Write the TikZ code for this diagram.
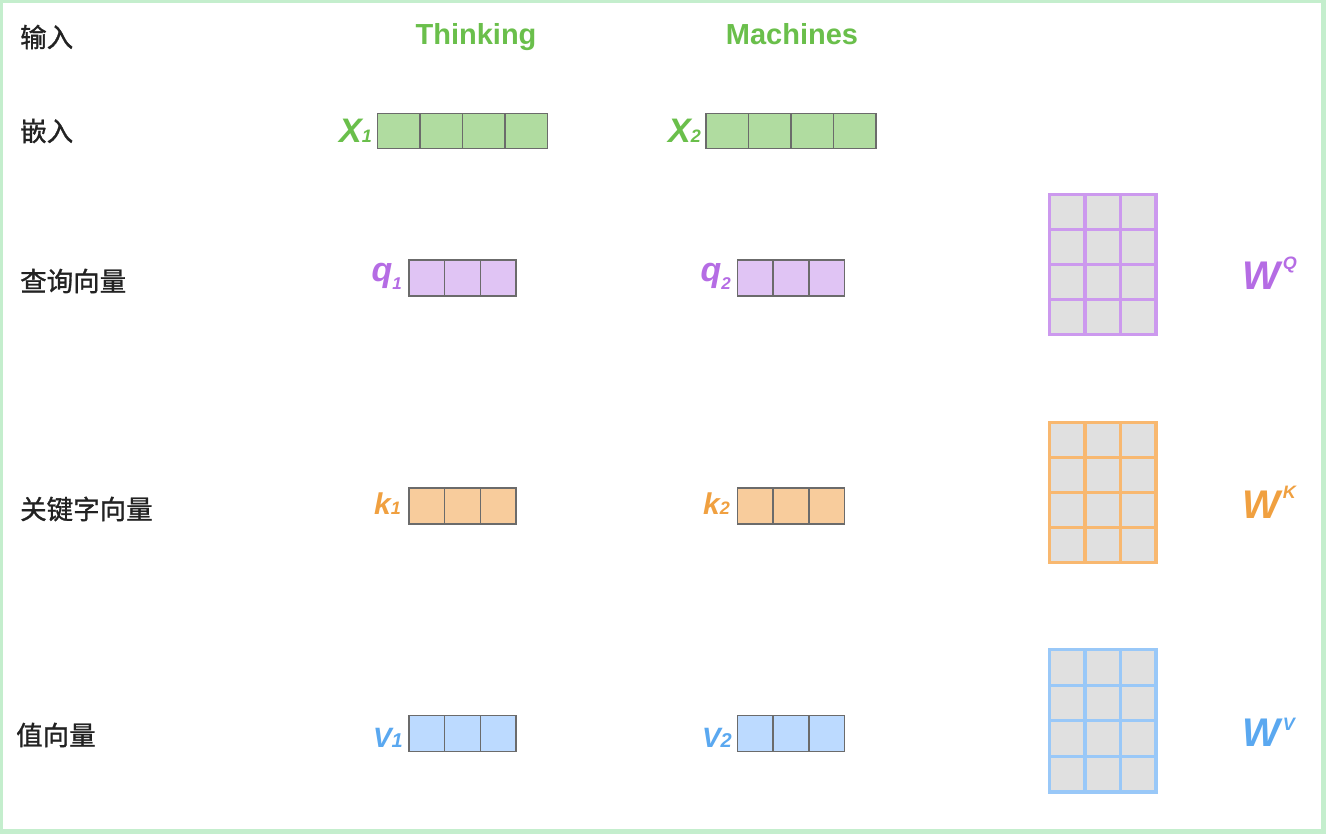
\documentclass[tikz,border=0pt]{standalone}
\usepackage{fontspec}
\setmainfont{Liberation Sans}
\newfontfamily\cjk[FakeBold=1.1]{Noto Sans CJK SC}
\definecolor{framegreen}{HTML}{C4EECD}
\definecolor{txgreen}{HTML}{6ABF4B}
\definecolor{figreen}{HTML}{B0DCA0}
\definecolor{txpurple}{HTML}{B56CE4}
\definecolor{fipurple}{HTML}{E0C4F4}
\definecolor{brpurple}{HTML}{CC99EE}
\definecolor{txorange}{HTML}{F0A040}
\definecolor{fiorange}{HTML}{F8CC9C}
\definecolor{brorange}{HTML}{F8B870}
\definecolor{txblue}{HTML}{5AA8F0}
\definecolor{fiblue}{HTML}{BCDAFF}
\definecolor{brblue}{HTML}{99C8F8}
\definecolor{matgrey}{HTML}{E0E0E0}
\definecolor{vecline}{HTML}{6B6B6B}
\definecolor{cjkgrey}{HTML}{222222}
\newcommand\fs[1]{\fontsize{#1}{#1}\selectfont}
% vector: x0, y0, n, cell width, fill, height
\newcommand\myvec[6]{%
  \foreach \i in {1,...,#3}
    \draw[vecstroke, fill=#5] ({#1+(\i-1)*#4},#2) rectangle ({#1+\i*#4},{#2+#6});}
% matrix: x0, y0, x1, y1, colour
\newcommand\mymat[5]{%
  \fill[matgrey] (#1,#2) rectangle (#3,#4);
  \foreach \c in {0,1,2,3}
    \draw[matstroke, #5] ({#1+\c*(#3-#1)/3},#2) -- ({#1+\c*(#3-#1)/3},#4);
  \foreach \r in {0,1,2,3,4}
    \draw[matstroke, #5] ({#1-1.5},{#2+\r*(#4-#2)/4}) -- ({#3+1.5},{#2+\r*(#4-#2)/4});}
\begin{document}
\begin{tikzpicture}[x=1pt,y=-1pt,
  vecstroke/.style={draw=vecline, line width=1.5pt},
  matstroke/.style={line width=3.2pt},
  cjklbl/.style={anchor=west, inner sep=0pt, text=cjkgrey, font=\cjk\fs{26.5}},
  word/.style={anchor=base, inner sep=0pt, font=\bfseries\fs{29}, text=txgreen},
  sym/.style={anchor=base east, inner sep=0pt, font=\bfseries\itshape}]
\useasboundingbox (0,0) rectangle (1326,834);
\fill[framegreen] (0,0) rectangle (1326,834);
\fill[white] (3,3) rectangle (1321,829);

% row labels
\node[cjklbl] (lin) at (20,37) {输入};
\node[cjklbl] (lemb) at (20,131) {嵌入};
\node[cjklbl] (lq) at (20,281) {查询向量};
\node[cjklbl] (lk) at (20,509) {关键字向量};
\node[cjklbl] (lv) at (16,735) {值向量};

% words
\node[word] (w1) at (476,45) {Thinking};
\node[word] (w2) at (792,45) {Machines};

% embeddings
\myvec{377.7}{113.7}{4}{42.4}{figreen}{35}
\myvec{706.2}{113.7}{4}{42.4}{figreen}{35}
\node[sym, text=txgreen] (x1) at (372,143) {\fs{34}X\fs{18}1};
\node[sym, text=txgreen] (x2) at (701,143) {\fs{34}X\fs{18}2};

% queries
\myvec{409}{260}{3}{35.7}{fipurple}{36}
\myvec{737.5}{260}{3}{35.7}{fipurple}{36}
\node[sym, text=txpurple] (q1) at (402,282) {\fs{34}q\raisebox{-8pt}{\fs{17}1}};
\node[sym, text=txpurple] (q2) at (731,282) {\fs{34}q\raisebox{-8pt}{\fs{17}2}};

% keys
\myvec{409}{488}{3}{35.7}{fiorange}{36}
\myvec{737.5}{488}{3}{35.7}{fiorange}{36}
\node[sym, text=txorange] (k1) at (401,514) {\fs{30}k\fs{18}1};
\node[sym, text=txorange] (k2) at (730,514) {\fs{30}k\fs{18}2};

% values
\myvec{409}{715.5}{3}{35.7}{fiblue}{36}
\myvec{737.5}{715.5}{3}{35.7}{fiblue}{36}
\node[sym, text=txblue] (v1) at (403,747) {\fs{28}V\fs{20}1};
\node[sym, text=txblue] (v2) at (732,747) {\fs{28}V\fs{20}2};

% weight matrices
\mymat{1049.5}{194.5}{1156}{334.5}{brpurple}
\mymat{1049.5}{422.5}{1156}{562.5}{brorange}
\mymat{1049.5}{649.5}{1156}{792}{brblue}

\node[anchor=base west, inner sep=0pt, text=txpurple, font=\bfseries\itshape] (wq) at (1242,290) {\fs{40}W\raisebox{20pt}{\fs{18}\,Q}};
\node[anchor=base west, inner sep=0pt, text=txorange, font=\bfseries\itshape] (wk) at (1242,518) {\fs{40}W\raisebox{20pt}{\fs{18}\,K}};
\node[anchor=base west, inner sep=0pt, text=txblue, font=\bfseries\itshape] (wv) at (1242,746) {\fs{40}W\raisebox{16pt}{\fs{18}\,V}};
\end{tikzpicture}
\end{document}
